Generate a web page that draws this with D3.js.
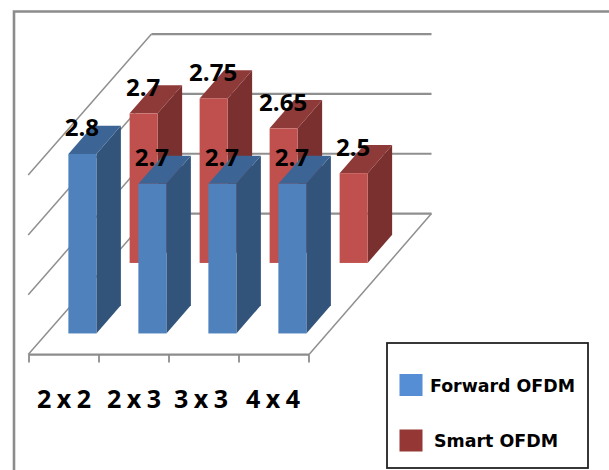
<!DOCTYPE html>
<html>
<head>
<meta charset="utf-8">
<style>
html,body{margin:0;padding:0;background:#fff}
svg{display:block}
</style>
<script src="https://cdn.jsdelivr.net/npm/d3@7"></script>
</head>
<body>
<svg id="chart" width="609" height="470"></svg>
<script>
const categories = ["2 x 2", "2 x 3", "3 x 3", "4 x 4"];
const seriesNames = ["Smart OFDM", "Forward OFDM"];
const forwardValues = [2.8, 2.7, 2.7, 2.7];
const smartValues = [2.7, 2.75, 2.65, 2.5];
const gridValues = [2.2, 2.4, 2.6, 2.8];
const legendNames = ["Forward OFDM", "Smart OFDM"];
const categoryLabelShift = [0, 0, -3, -1];

const palette = {
  "Forward OFDM": {front: "#4f81bd", top: "#3c6595", side: "#32547b", key: "#558ed5"},
  "Smart OFDM": {front: "#c0504d", top: "#8e3a38", side: "#7a302e", key: "#953735"}
};
const valuesBySeries = {"Forward OFDM": forwardValues, "Smart OFDM": smartValues};

const svg = d3.select("#chart");

// Floor plane: x runs along the categories, depth runs back through the series.
const x = d3.scaleBand().domain(categories).range([29, 309]).paddingInner(0.6).paddingOuter(0.3);
const depth = d3.scaleBand().domain(["Forward OFDM", "Smart OFDM"]).range([0, 1]).paddingInner(0.6).paddingOuter(0.3);
const y = d3.scaleLinear().domain([2.2, 2.8]).range([354.6, 175.1]);
const depthDX = 122.5, depthDY = -141;

// Oblique projection of (screen x, screen y, depth fraction).
const project = (px, py, d) => [px + d * depthDX, py + d * depthDY];
const poly = pts => pts.map(p => p.map(v => v.toFixed(2)).join(",")).join(" ");

// Outer frame, open on the right and bottom edges
svg.append("path")
  .attr("d", d3.line()([[14, 470], [14, 11.5], [609, 11.5]]))
  .attr("fill", "none").attr("stroke", "#8c8c8c").attr("stroke-width", 2.6);

// Gridlines across the side wall and the back wall
const gridG = svg.append("g").attr("fill", "none").attr("stroke", "#8f8f8f");
gridValues.forEach(v => {
  const front = project(x.range()[0] - 0.8, y(v), 0);
  const back = project(x.range()[0], y(v), 1);
  const right = project(x.range()[1], y(v), 1);
  gridG.append("path").attr("d", d3.line()([front, back])).attr("stroke-width", 1.5);
  gridG.append("path").attr("d", d3.line()([back, right])).attr("stroke-width", 2.2);
});

// Right edge of the floor and the category axis with its ticks
const floorRight = [project(x.range()[1], y(2.2), 0), project(x.range()[1], y(2.2), 1)];
gridG.append("path").attr("d", d3.line()(floorRight)).attr("stroke-width", 1.5);
const axisG = svg.append("g").attr("stroke", "#8c8c8c").attr("fill", "none");
axisG.append("line").attr("x1", 29).attr("x2", 309).attr("y1", y(2.2)).attr("y2", y(2.2)).attr("stroke-width", 2.2);
d3.range(categories.length + 1).forEach(i => {
  const tx = x.range()[0] + i * x.step();
  axisG.append("line").attr("x1", tx).attr("x2", tx).attr("y1", y(2.2)).attr("y2", y(2.2) + 8).attr("stroke-width", 1.8);
});

// Bars: back row first so the front row overlaps it
const barLabels = [];
seriesNames.forEach(name => {
  const c = palette[name];
  const d0 = depth(name), d1 = d0 + depth.bandwidth();
  categories.forEach((cat, i) => {
    const v = valuesBySeries[name][i];
    const xl = x(cat), xr = xl + x.bandwidth();
    const g = svg.append("g");
    g.append("polygon").attr("fill", c.side).attr("points", poly([
      project(xr, y(v), d0), project(xr, y(v), d1), project(xr, y(2.2), d1), project(xr, y(2.2), d0)]));
    g.append("polygon").attr("fill", c.top).attr("points", poly([
      project(xl, y(v), d0), project(xl, y(v), d1), project(xr, y(v), d1), project(xr, y(v), d0)]));
    const [fx0, fy0] = project(xl, y(v), d0);
    const [fx1, fy1] = project(xr, y(2.2), d0);
    g.append("rect").attr("x", fx0).attr("y", fy0).attr("width", fx1 - fx0).attr("height", fy1 - fy0).attr("fill", c.front);
    barLabels.push({v, cx: (fx0 + fx1) / 2, top: fy0});
  });
});

// Value labels sit above the bars, in front of every mark
svg.append("g").selectAll("text").data(barLabels).join("text")
  .attr("x", d => d.cx - 0.5).attr("y", d => d.top - 17.5)
  .attr("text-anchor", "middle")
  .attr("font-family", "'Open Sans', sans-serif").attr("font-weight", 700).attr("font-size", 24)
  .attr("fill", "#000")
  .text(d => d3.format("~g")(d.v));

// Category labels
svg.append("g").selectAll("text").data(categories).join("text")
  .attr("x", (d, i) => x(d) + x.bandwidth() / 2 + categoryLabelShift[i])
  .attr("y", 408)
  .attr("text-anchor", "middle")
  .attr("font-family", "'Open Sans', sans-serif").attr("font-weight", 700).attr("font-size", 25)
  .attr("word-spacing", -1)
  .attr("fill", "#000")
  .text(d => d);

// Legend box
const legend = svg.append("g");
legend.append("rect").attr("x", 387).attr("y", 343).attr("width", 201).attr("height", 125)
  .attr("fill", "#fff").attr("stroke", "#222").attr("stroke-width", 1.8);
const legendY = d3.scalePoint().domain(legendNames).range([385, 440.5]);
const legendTextX = d3.scaleOrdinal().domain(legendNames).range([430, 434]);
const legendTextWidth = d3.scaleOrdinal().domain(legendNames).range([145, 124]);
legendNames.forEach(name => {
  legend.append("rect").attr("x", 399.5).attr("y", legendY(name) - 11).attr("width", 23).attr("height", 22)
    .attr("fill", palette[name].key);
  legend.append("text").attr("x", legendTextX(name)).attr("y", legendY(name) + 6.5)
    .attr("font-family", "'DejaVu Sans', sans-serif").attr("font-weight", 700).attr("font-size", 17)
    .attr("textLength", legendTextWidth(name)).attr("lengthAdjust", "spacingAndGlyphs")
    .attr("fill", "#000")
    .text(name);
});
</script>
</body>
</html>
